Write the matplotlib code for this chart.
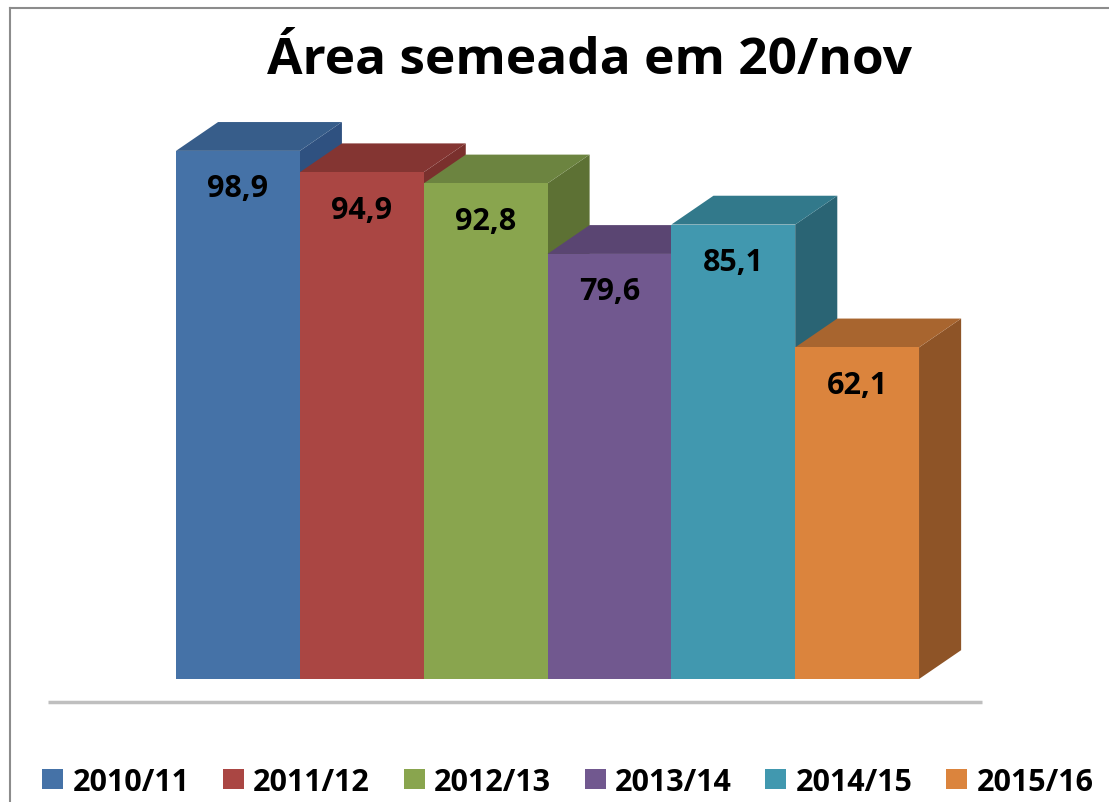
import matplotlib
matplotlib.use("Agg")
import matplotlib.pyplot as plt
from matplotlib.patches import Polygon, Patch
from matplotlib.lines import Line2D

seasons = ["2010/11", "2011/12", "2012/13", "2013/14", "2014/15", "2015/16"]
area = [98.9, 94.9, 92.8, 79.6, 85.1, 62.1]
labels = ["98,9", "94,9", "92,8", "79,6", "85,1", "62,1"]

front_colors = ["#4572A7", "#AA4643", "#89A54E", "#71588F", "#4198AF", "#DB843D"]
top_colors = ["#375D8A", "#843532", "#6C8440", "#5A4572", "#32798B", "#A8652F"]
side_colors = ["#2F5180", "#7A302D", "#5D7134", "#4E3C63", "#2A6474", "#8E5427"]

plt.rcParams["font.family"] = ["Open Sans", "DejaVu Sans"]

fig = plt.figure(figsize=(11.09, 8.03), dpi=100)
ax = fig.add_axes([0, 0, 1, 1])
ax.set_xlim(-1.421, 7.534)
ax.set_ylim(-23.03, 127.34)
ax.axis("off")

dx, dy = 0.34, 5.4  # depth of the 3d boxes
for i, v in enumerate(area):
    x0, x1 = i, i + 1
    front = Polygon([(x0, 0), (x1, 0), (x1, v), (x0, v)], closed=True,
                    facecolor=front_colors[i], edgecolor="none")
    top = Polygon([(x0, v), (x1, v), (x1 + dx, v + dy), (x0 + dx, v + dy)],
                  closed=True, facecolor=top_colors[i], edgecolor="none")
    side = Polygon([(x1, 0), (x1 + dx, dy), (x1 + dx, v + dy), (x1, v)],
                   closed=True, facecolor=side_colors[i], edgecolor="none")
    ax.add_patch(side)
    ax.add_patch(top)
    ax.add_patch(front)
    ax.text(i + 0.5, v - 7.0, labels[i], ha="center", va="center",
            fontsize=22, fontweight="bold", color="black")

# baseline under the bars
ax.plot([-1.03, 6.51], [-4.3, -4.3], color="#BFBFBF", lw=2.5, solid_capstyle="butt")

fig.text(0.532, 0.908, "Área semeada em 20/nov", ha="center", va="baseline",
         fontsize=37, fontweight="bold")

handles = [Patch(facecolor=c, edgecolor="none") for c in front_colors]
fig.legend(handles, seasons, loc="center", bbox_to_anchor=(0.512, 0.025), ncol=6,
           frameon=False, handlelength=0.69, handleheight=0.65, handletextpad=0.3,
           columnspacing=1.1, borderpad=0, prop={"size": 22, "weight": "bold"})

# chart border (left and top visible)
fig.add_artist(Line2D([10 / 1109, 10 / 1109], [0, 1 - 9 / 803], color="#8C8C8C", lw=1.5))
fig.add_artist(Line2D([10 / 1109, 1], [1 - 9 / 803, 1 - 9 / 803], color="#8C8C8C", lw=1.5))

fig.savefig("out.png", dpi=100)
